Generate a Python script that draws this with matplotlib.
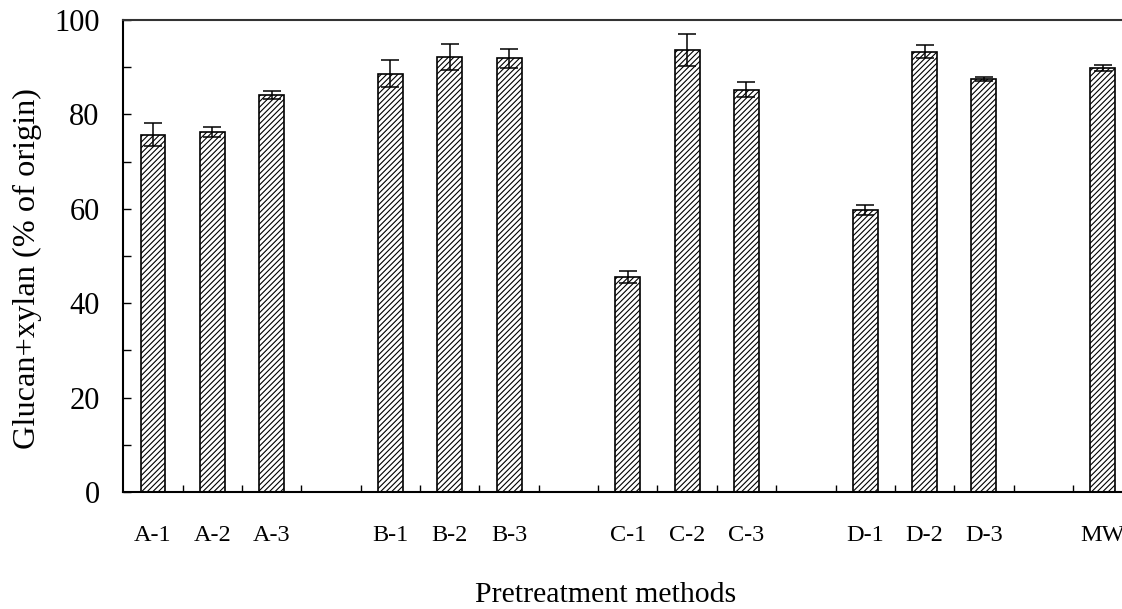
import matplotlib
matplotlib.use("Agg")
import matplotlib.pyplot as plt
import numpy as np
from matplotlib.ticker import MultipleLocator, FixedLocator

plt.rcParams["font.family"] = ["Liberation Serif", "DejaVu Serif"]
plt.rcParams["hatch.linewidth"] = 0.8

# -------------------------
# DATA
# -------------------------
labels = ["A-1", "A-2", "A-3", "B-1", "B-2", "B-3",
          "C-1", "C-2", "C-3", "D-1", "D-2", "D-3", "MW"]
values = [75.7, 76.3, 84.1, 88.6, 92.2, 91.9,
          45.6, 93.6, 85.2, 59.7, 93.3, 87.5, 89.9]
errors = [2.5, 1.1, 0.9, 2.9, 2.7, 2.0,
          1.3, 3.4, 1.6, 1.1, 1.3, 0.5, 0.6]
group_size = 3
y_label = "Glucan+xylan (% of origin)"
x_label = "Pretreatment methods"

# -------------------------
# LAYOUT
# -------------------------
W, H = 1122, 609
fig = plt.figure(figsize=(W / 100, H / 100), dpi=100)

n_slots = len(labels) + (len(labels) - 1) // group_size
slot_px = 59.35
left_px, top_px, bottom_px = 123.3, 20, 492
ax_w = n_slots * slot_px
ax_h = bottom_px - top_px
ax = fig.add_axes([left_px / W, (H - bottom_px) / H, ax_w / W, ax_h / H])

# one empty slot between each group of three
slots = np.array([i + i // group_size for i in range(len(labels))])
centers = slots + 0.5

ax.bar(centers, values, width=0.42, facecolor="white", edgecolor="black",
       linewidth=1.2, hatch="//////", zorder=2)
ax.errorbar(centers, values, yerr=errors, fmt="none", ecolor="black",
            elinewidth=1.1, capsize=6.5, capthick=1.1, zorder=3)

ax.set_xlim(0, n_slots)
ax.set_ylim(0, 100)

ax.yaxis.set_major_locator(MultipleLocator(20))
ax.yaxis.set_minor_locator(MultipleLocator(10))
ax.tick_params(axis="y", which="major", direction="in", length=6,
               width=1.0, labelsize=22, pad=17)
ax.tick_params(axis="y", which="minor", direction="in", length=5.5, width=1.0)

ax.set_xticks(centers)
ax.set_xticklabels(labels)
ax.xaxis.set_minor_locator(FixedLocator(np.arange(1, n_slots)))
ax.tick_params(axis="x", which="major", length=0, labelsize=17.5, pad=24)
ax.tick_params(axis="x", which="minor", direction="in", length=5, width=1.0)

for side in ["left", "bottom"]:
    ax.spines[side].set_linewidth(1.5)
ax.spines["top"].set_linewidth(1.5)
ax.spines["top"].set_color("#333333")
ax.spines["right"].set_visible(False)

ax.set_ylabel(y_label, fontsize=23.3)
ax.yaxis.set_label_coords(-(left_px - 42) / ax_w, (bottom_px - 269) / ax_h)
ax.set_xlabel(x_label, fontsize=21.5)
ax.xaxis.set_label_coords((606 - left_px) / ax_w, -(582 - bottom_px) / ax_h)

fig.savefig("out.png", dpi=100)
